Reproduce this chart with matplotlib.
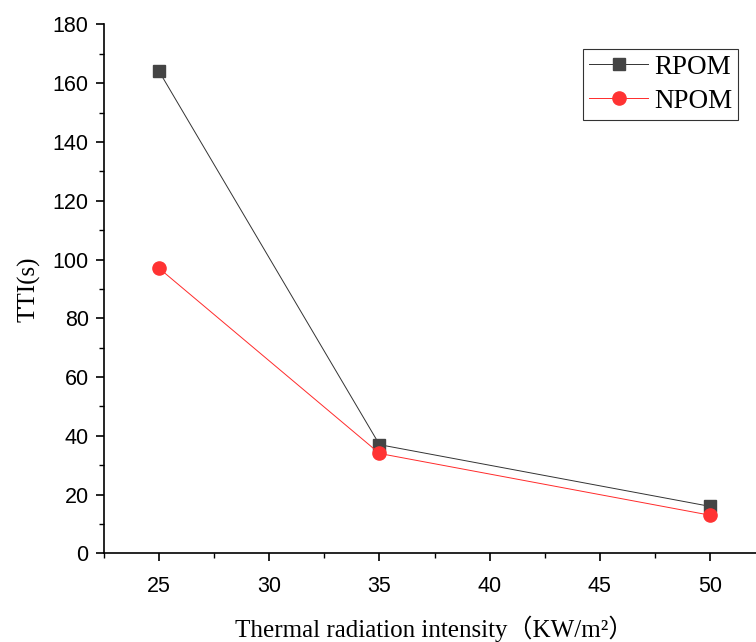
import matplotlib
matplotlib.use("Agg")
import matplotlib.pyplot as plt
from matplotlib.ticker import MultipleLocator

intensity = [25, 35, 50]
rpom = [164, 37, 16]
npom = [97, 34, 13]
series_labels = ["RPOM", "NPOM"]

fig = plt.figure(figsize=(7.56, 6.42), dpi=100)
ax = fig.add_axes([0.1376, 0.138, 0.8745, 0.824])

ax.plot(intensity, rpom, color='#333333', lw=0.7, marker='s', ms=8.5,
        mfc='#444444', mec='#444444', label=series_labels[0])
ax.plot(intensity, npom, color='#ff2a2a', lw=0.7, marker='o', ms=9.5,
        mfc='#ff3333', mec='#ff3333', label=series_labels[1])

ax.set_xlim(22.5, 52.5)
ax.set_ylim(0, 180)
ax.xaxis.set_major_locator(MultipleLocator(5))
ax.xaxis.set_minor_locator(MultipleLocator(2.5))
ax.yaxis.set_major_locator(MultipleLocator(20))
ax.yaxis.set_minor_locator(MultipleLocator(10))
for s in ['top', 'right']:
    ax.spines[s].set_visible(False)
for s in ['left', 'bottom']:
    ax.spines[s].set_linewidth(1.2)
ax.tick_params(which='major', direction='out', length=6, width=1.2,
               labelsize=15.5)
ax.tick_params(axis='x', which='major', pad=10)
ax.tick_params(axis='y', which='major', pad=5)
ax.tick_params(which='minor', direction='out', length=3.5, width=1.0)
for lab in ax.get_xticklabels() + ax.get_yticklabels():
    lab.set_family('Liberation Sans')

ax.set_xlabel('Thermal radiation intensity（KW/m²）',
              family=['Liberation Serif', 'Noto Sans CJK SC'], fontsize=18,
              labelpad=14)
ax.set_ylabel('TTI(s)', family='Liberation Serif', fontsize=18, labelpad=9)

leg = ax.legend(loc='upper right', bbox_to_anchor=(0.959, 0.9535),
                prop={'family': 'Liberation Serif', 'size': 19.5},
                frameon=True, fancybox=False, edgecolor='black',
                handlelength=2.2, handletextpad=0.2, borderpad=0.22,
                labelspacing=0.32, borderaxespad=0)
leg.get_frame().set_linewidth(0.8)

fig.savefig('out.png', dpi=100)
